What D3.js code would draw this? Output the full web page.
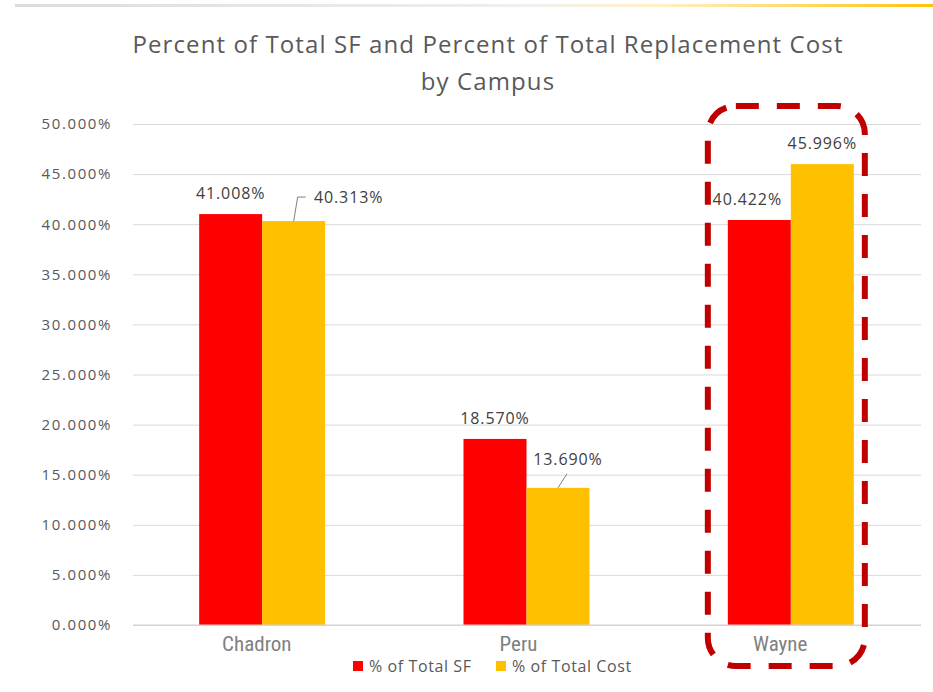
<!DOCTYPE html>
<html>
<head>
<meta charset="utf-8">
<script src="https://cdn.jsdelivr.net/npm/d3@7"></script>
<style>
  html, body { margin: 0; padding: 0; background: #ffffff; }
  svg { display: block; }
</style>
</head>
<body>
<svg id="chart" width="933" height="692"></svg>
<script>
// ---- data ----
const categories = ["Chadron", "Peru", "Wayne"];
const seriesNames = ["% of Total SF", "% of Total Cost"];
const sfValues = [41.008, 18.570, 40.422];
const costValues = [40.313, 13.690, 45.996];
const yTicks = [0, 5, 10, 15, 20, 25, 30, 35, 40, 45, 50];
const titleLines = ["Percent of Total SF and Percent of Total Replacement Cost", "by Campus"];

// ---- layout / style ----
const W = 933, H = 692;
const colors = ["#FF0000", "#FFC000"];
const labelFont = "'Open Sans', 'Liberation Sans', sans-serif";
const catFont = "'Liberation Sans Narrow', 'Roboto Condensed', 'Roboto', sans-serif";

const svg = d3.select("#chart");

// top decorative strip
const defs = svg.append("defs");
const grad = defs.append("linearGradient").attr("id", "topStrip").attr("x1", "0%").attr("x2", "100%");
grad.append("stop").attr("offset", "0%").attr("stop-color", "#dcdcdc");
grad.append("stop").attr("offset", "55%").attr("stop-color", "#efefef");
grad.append("stop").attr("offset", "70%").attr("stop-color", "#fff1c8");
grad.append("stop").attr("offset", "100%").attr("stop-color", "#ffc20e");
svg.append("rect").attr("x", 15).attr("y", 4).attr("width", W - 15).attr("height", 3).attr("fill", "url(#topStrip)");

// scales
const y = d3.scaleLinear().domain([0, 50]).range([625, 124]);
const x0 = d3.scalePoint().domain(categories).range([130, 923]).padding(0.5);
const x1 = d3.scaleBand().domain(seriesNames).range([-63, 63]).padding(0);
const xLabel = d3.scalePoint().domain(categories).range([126, 911]).padding(0.5);

// gridlines
const grid = svg.append("g")
  .attr("transform", "translate(133,0)")
  .call(d3.axisLeft(y).tickValues(yTicks).tickSize(-788).tickFormat(""));
grid.select(".domain").remove();
grid.selectAll(".tick line").attr("stroke", "#d9d9d9").attr("stroke-width", 1);

// y axis labels
const yAxis = svg.append("g")
  .attr("transform", "translate(112,0)")
  .call(d3.axisLeft(y).tickValues(yTicks).tickSize(0).tickPadding(0).tickFormat(d => d3.format(".3f")(d) + "%"));
yAxis.select(".domain").remove();
yAxis.selectAll("text")
  .attr("fill", "#595959")
  .style("font-family", labelFont)
  .style("font-size", "15px")
  .style("letter-spacing", "1.6px");

// bars
const rows = categories.map((c, i) => ({ cat: c, vals: [sfValues[i], costValues[i]] }));
const groups = svg.append("g").selectAll("g").data(rows).join("g")
  .attr("transform", d => `translate(${x0(d.cat)},0)`);
groups.selectAll("rect").data(d => d.vals.map((v, j) => ({ s: seriesNames[j], v, j }))).join("rect")
  .attr("x", d => x1(d.s))
  .attr("width", x1.bandwidth())
  .attr("y", d => y(d.v))
  .attr("height", d => y(0) - y(d.v))
  .attr("fill", d => colors[d.j]);

// baseline
svg.append("line").attr("x1", 133).attr("x2", 921).attr("y1", y(0)).attr("y2", y(0))
  .attr("stroke", "#d0d0d0").attr("stroke-width", 1);

// data labels (offsets in px relative to bar top-center; leader = moved label)
const labelPlacement = [
  [{ dx: 0, dy: -21 }, { dx: 55, dy: -24, leader: "elbow" }],
  [{ dx: 0, dy: -21 }, { dx: 10, dy: -29, leader: "diag" }],
  [{ dx: -12, dy: -21 }, { dx: 0, dy: -21 }]
];
const fmt = d => d3.format(".3f")(d) + "%";
const labelG = svg.append("g");
rows.forEach((r, i) => {
  r.vals.forEach((v, j) => {
    const cx = x0(r.cat) + x1(seriesNames[j]) + x1.bandwidth() / 2;
    const top = y(v);
    const p = labelPlacement[i][j];
    const tx = cx + p.dx, ty = top + p.dy;
    labelG.append("text")
      .attr("x", tx).attr("y", ty)
      .attr("text-anchor", "middle")
      .attr("dominant-baseline", "central")
      .attr("fill", "#404040")
      .style("font-family", labelFont)
      .style("font-size", "16px")
      .style("letter-spacing", "0.9px")
      .text(fmt(v));
    if (p.leader) {
      const pts = p.leader === "elbow"
        ? [[cx + 0, top], [cx + 4, ty], [cx + 12, ty]]
        : [[cx, top], [cx + 9, top - 14]];
      labelG.append("path")
        .attr("d", d3.line()(pts))
        .attr("fill", "none")
        .attr("stroke", "#7f7f7f")
        .attr("stroke-width", 1);
    }
  });
});

// category labels
svg.append("g").selectAll("text").data(categories).join("text")
  .attr("x", d => xLabel(d))
  .attr("y", 644)
  .attr("text-anchor", "middle")
  .attr("dominant-baseline", "central")
  .attr("fill", "#7f7f7f")
  .style("font-family", catFont)
  .style("font-size", "21px")
  .text(d => d);

// title
svg.append("g").selectAll("text").data(titleLines).join("text")
  .attr("x", 488)
  .attr("y", (d, i) => 43 + i * 37)
  .attr("text-anchor", "middle")
  .attr("dominant-baseline", "central")
  .attr("fill", "#595959")
  .style("font-family", labelFont)
  .style("font-size", "24px")
  .style("letter-spacing", "1.1px")
  .text(d => d);

// legend
const legendItems = [{ name: seriesNames[0], x: 353 }, { name: seriesNames[1], x: 496 }];
const lg = svg.append("g").selectAll("g").data(legendItems).join("g")
  .attr("transform", d => `translate(${d.x},666)`);
lg.append("rect").attr("x", 0).attr("y", -5).attr("width", 10).attr("height", 10)
  .attr("fill", (d, i) => colors[i]);
lg.append("text").attr("x", 16).attr("y", 0)
  .attr("dominant-baseline", "central")
  .attr("fill", "#595959")
  .style("font-family", labelFont)
  .style("font-size", "16px")
  .style("letter-spacing", "0.6px")
  .text(d => d.name);

// highlight dashed rounded box around Wayne
svg.append("rect")
  .attr("x", x0("Wayne") - 83).attr("y", 106)
  .attr("width", 157).attr("height", 560)
  .attr("rx", 28).attr("ry", 28)
  .attr("fill", "none")
  .attr("stroke", "#C00000")
  .attr("stroke-width", 6)
  .attr("stroke-dasharray", "23 18");
</script>
</body>
</html>
